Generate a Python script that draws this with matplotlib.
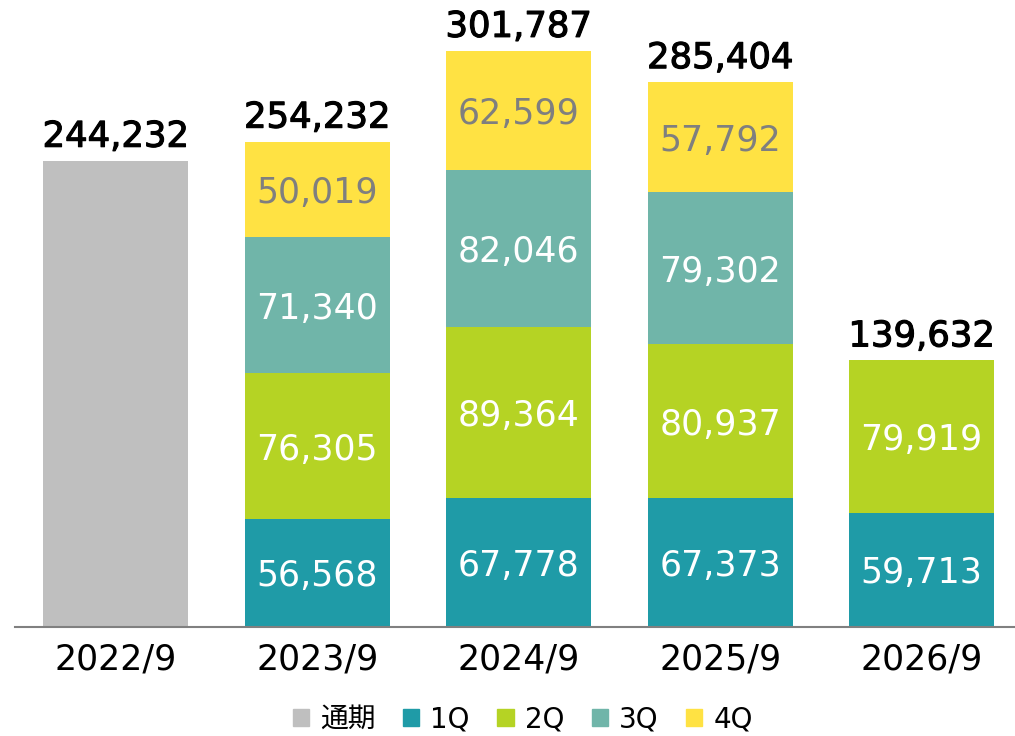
import numpy as np
import matplotlib.pyplot as plt
import matplotlib.patheffects as pe
from matplotlib.patches import Patch

plt.rcParams['font.family'] = ['DejaVu Sans', 'Noto Sans CJK JP']

years = ['2022/9', '2023/9', '2024/9', '2025/9', '2026/9']
full_year = [244232, 0, 0, 0, 0]
q1 = [0, 56568, 67778, 67373, 59713]
q2 = [0, 76305, 89364, 80937, 79919]
q3 = [0, 71340, 82046, 79302, 0]
q4 = [0, 50019, 62599, 57792, 0]
totals = [244232, 254232, 301787, 285404, 139632]

colors = {'通期': '#BFBFBF', '1Q': '#1F9BA7', '2Q': '#B5D324',
          '3Q': '#70B5A9', '4Q': '#FFE243'}

fig = plt.figure(figsize=(10.15, 7.36), dpi=100)
ax = fig.add_axes([15 / 1015, 1 - 627 / 736, 1000 / 1015, 627 / 736])

x = np.arange(len(years))
w = 0.72
ax.bar(x, full_year, w, color=colors['通期'])
bottom = np.zeros(len(years))
for name, vals in [('1Q', q1), ('2Q', q2), ('3Q', q3), ('4Q', q4)]:
    vals = np.array(vals)
    ax.bar(x, vals, w, bottom=bottom, color=colors[name])
    for i, v in enumerate(vals):
        if v > 0:
            tc = '#7F7F7F' if name == '4Q' else 'white'
            ax.text(x[i], bottom[i] + v / 2, f'{v:,}', ha='center', va='center_baseline',
                    fontsize=25, color=tc)
    bottom += vals

# totals above each bar
for i, t in enumerate(totals):
    ax.annotate(f'{t:,}', (x[i], t), xytext=(0, 5), textcoords='offset points',
                ha='center', va='bottom', fontsize=25.5, color='black',
                path_effects=[pe.withStroke(linewidth=0.8, foreground='black')])

ax.set_xlim(-0.5, 4.463)
ax.set_ylim(0, 328400)
ax.set_yticks([])
ax.set_xticks(x)
ax.set_xticklabels(years, fontsize=25)
ax.tick_params(axis='x', length=0, pad=11)
for s in ['top', 'right', 'left']:
    ax.spines[s].set_visible(False)
ax.spines['bottom'].set_color('#808080')
ax.spines['bottom'].set_linewidth(1.5)

handles = [Patch(color=c, label=k) for k, c in colors.items()]
fig.legend(handles=handles, loc='lower center', bbox_to_anchor=(0.515, -0.03),
           ncol=5, frameon=False, fontsize=20, handlelength=0.58, handleheight=0.58,
           handletextpad=0.4, columnspacing=1.0)

fig.savefig('out.png', dpi=100)
